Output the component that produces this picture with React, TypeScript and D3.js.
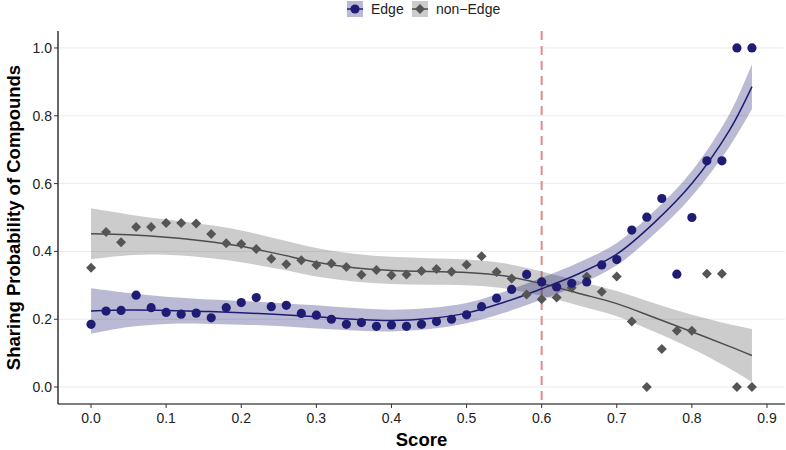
import * as d3 from 'd3';

// raw data: score bins and observed sharing probability per group
const scores = [
  0.0, 0.02, 0.04, 0.06, 0.08, 0.1, 0.12, 0.14, 0.16, 0.18, 0.2, 0.22, 0.24, 0.26, 0.28,
  0.3, 0.32, 0.34, 0.36, 0.38, 0.4, 0.42, 0.44, 0.46, 0.48, 0.5, 0.52, 0.54, 0.56, 0.58,
  0.6, 0.62, 0.64, 0.66, 0.68, 0.7, 0.72, 0.74, 0.76, 0.78, 0.8, 0.82, 0.84, 0.86, 0.88,
];
const edgeValues = [
  0.185, 0.224, 0.226, 0.271, 0.234, 0.22, 0.215, 0.218, 0.204, 0.234, 0.249, 0.264, 0.237, 0.241, 0.217,
  0.212, 0.2, 0.185, 0.19, 0.179, 0.183, 0.179, 0.185, 0.193, 0.2, 0.213, 0.237, 0.262, 0.288, 0.332,
  0.31, 0.295, 0.306, 0.31, 0.36, 0.376, 0.463, 0.501, 0.556, 0.333, 0.5, 0.667, 0.667, 1.0, 1.0,
];
const nonEdgeValues = [
  0.352, 0.457, 0.427, 0.472, 0.472, 0.484, 0.484, 0.482, 0.451, 0.424, 0.422, 0.407, 0.378, 0.362, 0.374,
  0.36, 0.364, 0.354, 0.331, 0.345, 0.33, 0.332, 0.342, 0.348, 0.34, 0.361, 0.386, 0.339, 0.32, 0.273,
  0.259, 0.264, 0.293, 0.326, 0.281, 0.326, 0.193, 0.0, 0.112, 0.166, 0.166, 0.334, 0.334, 0.0, 0.0,
];

// smoothed fit and its confidence half-width
const fitX = [0, 0.05, 0.1, 0.15, 0.2, 0.25, 0.3, 0.35, 0.4, 0.45, 0.5, 0.55, 0.6, 0.65, 0.7, 0.75, 0.8, 0.85, 0.88];
const edgeFit = [0.224, 0.227, 0.226, 0.223, 0.219, 0.214, 0.207, 0.2, 0.196, 0.202, 0.218, 0.25, 0.29, 0.335, 0.392, 0.485, 0.6, 0.757, 0.886];
const edgeSe = [0.067, 0.05, 0.04, 0.036, 0.035, 0.034, 0.034, 0.033, 0.032, 0.031, 0.03, 0.031, 0.032, 0.033, 0.033, 0.034, 0.037, 0.048, 0.066];
const nonEdgeFit = [0.452, 0.449, 0.442, 0.431, 0.415, 0.392, 0.368, 0.352, 0.344, 0.341, 0.338, 0.328, 0.305, 0.276, 0.246, 0.205, 0.163, 0.12, 0.093];
const nonEdgeSe = [0.075, 0.06, 0.052, 0.049, 0.047, 0.044, 0.042, 0.041, 0.04, 0.039, 0.038, 0.037, 0.036, 0.036, 0.037, 0.042, 0.05, 0.065, 0.078];

const xTicks = [0, 0.1, 0.2, 0.3, 0.4, 0.5, 0.6, 0.7, 0.8, 0.9];
const yTicks = [0, 0.2, 0.4, 0.6, 0.8, 1.0];
const cutoff = 0.6;

const EDGE = '#1f1c73';
const GREY = '#555555';
const FONT = '"Liberation Sans", Arial, Helvetica, sans-serif';

export default function App() {
  const width = 786;
  const height = 450;
  const margin = { top: 31, right: 1, bottom: 46, left: 58 };

  const x = d3.scaleLinear().domain([-0.044, 0.924]).range([margin.left, width - margin.right]);
  const y = d3.scaleLinear().domain([-0.05, 1.05]).range([height - margin.bottom, margin.top]);

  const fitRows = (fit: number[], se: number[]) =>
    fitX.map((v, i) => ({ x: v, y: fit[i], lo: fit[i] - se[i], hi: fit[i] + se[i] }));
  const edgeRows = fitRows(edgeFit, edgeSe);
  const nonEdgeRows = fitRows(nonEdgeFit, nonEdgeSe);

  const area = d3
    .area<{ x: number; lo: number; hi: number }>()
    .x((d) => x(d.x))
    .y0((d) => y(d.lo))
    .y1((d) => y(d.hi))
    .curve(d3.curveCatmullRom);
  const line = d3
    .line<{ x: number; y: number }>()
    .x((d) => x(d.x))
    .y((d) => y(d.y))
    .curve(d3.curveCatmullRom);

  const diamond = d3.symbol(d3.symbolSquare, 50)()!;
  const x0 = margin.left;
  const yBottom = height - margin.bottom;

  return (
    <svg
      width={width}
      height={height}
      style={{ position: 'absolute', left: 0, top: 0, background: '#fff' }}
      fontFamily={FONT}
    >
      {/* horizontal grid */}
      {yTicks.map((t) => (
        <line key={t} x1={x0} x2={width - margin.right} y1={y(t)} y2={y(t)} stroke="#ebebeb" strokeWidth={1} />
      ))}

      {/* cutoff */}
      <line
        x1={x(cutoff)}
        x2={x(cutoff)}
        y1={margin.top}
        y2={yBottom}
        stroke="#e08c8c"
        strokeWidth={2}
        strokeDasharray="9,6"
      />

      {/* confidence bands */}
      <path d={area(nonEdgeRows)!} fill={GREY} fillOpacity={0.3} />
      <path d={area(edgeRows)!} fill={EDGE} fillOpacity={0.3} />

      {/* fitted lines */}
      <path d={line(nonEdgeRows)!} fill="none" stroke="#4d4d4d" strokeWidth={1.5} />
      <path d={line(edgeRows)!} fill="none" stroke={EDGE} strokeWidth={1.5} />

      {/* points */}
      {scores.map((s, i) => (
        <path
          key={'n' + i}
          d={diamond}
          transform={`translate(${x(s)},${y(nonEdgeValues[i])}) rotate(45)`}
          fill={GREY}
        />
      ))}
      {scores.map((s, i) => (
        <circle key={'e' + i} cx={x(s)} cy={y(edgeValues[i])} r={4.6} fill={EDGE} />
      ))}

      {/* axes */}
      <line x1={x0} x2={x0} y1={margin.top} y2={yBottom} stroke="#000" strokeWidth={1.2} />
      <line x1={x0} x2={width - margin.right} y1={yBottom} y2={yBottom} stroke="#000" strokeWidth={1.2} />
      {yTicks.map((t) => (
        <g key={t}>
          <line x1={x0 - 4} x2={x0} y1={y(t)} y2={y(t)} stroke="#333" />
          <text x={x0 - 6} y={y(t)} dy="0.36em" textAnchor="end" fontSize={14} fill="#222">
            {t.toFixed(1)}
          </text>
        </g>
      ))}
      {xTicks.map((t) => (
        <g key={t}>
          <line x1={x(t)} x2={x(t)} y1={yBottom} y2={yBottom + 4} stroke="#333" />
          <text x={x(t)} y={yBottom + 19} textAnchor="middle" fontSize={14} fill="#222">
            {t.toFixed(1)}
          </text>
        </g>
      ))}
      <text x={(x0 + width - margin.right) / 2} y={446} textAnchor="middle" fontSize={18.5} fontWeight="bold">
        Score
      </text>
      <text
        transform={`translate(20,${(margin.top + yBottom) / 2}) rotate(-90)`}
        textAnchor="middle"
        fontSize={18.5}
        fontWeight="bold"
      >
        Sharing Probability of Compounds
      </text>

      {/* legend */}
      <g transform="translate(347,1)">
        <rect width={16} height={16} fill={EDGE} fillOpacity={0.3} />
        <line x1={0} x2={16} y1={8} y2={8} stroke={EDGE} strokeWidth={1.5} />
        <circle cx={8} cy={8} r={4.6} fill={EDGE} />
        <text x={24} y={13} fontSize={14} fill="#222">
          Edge
        </text>
      </g>
      <g transform="translate(412,1)">
        <rect width={16} height={16} fill={GREY} fillOpacity={0.3} />
        <line x1={0} x2={16} y1={8} y2={8} stroke="#4d4d4d" strokeWidth={1.5} />
        <path d={diamond} transform="translate(8,8) rotate(45)" fill={GREY} />
        <text x={24} y={13} fontSize={14} fill="#222">
          non−Edge
        </text>
      </g>
    </svg>
  );
}
